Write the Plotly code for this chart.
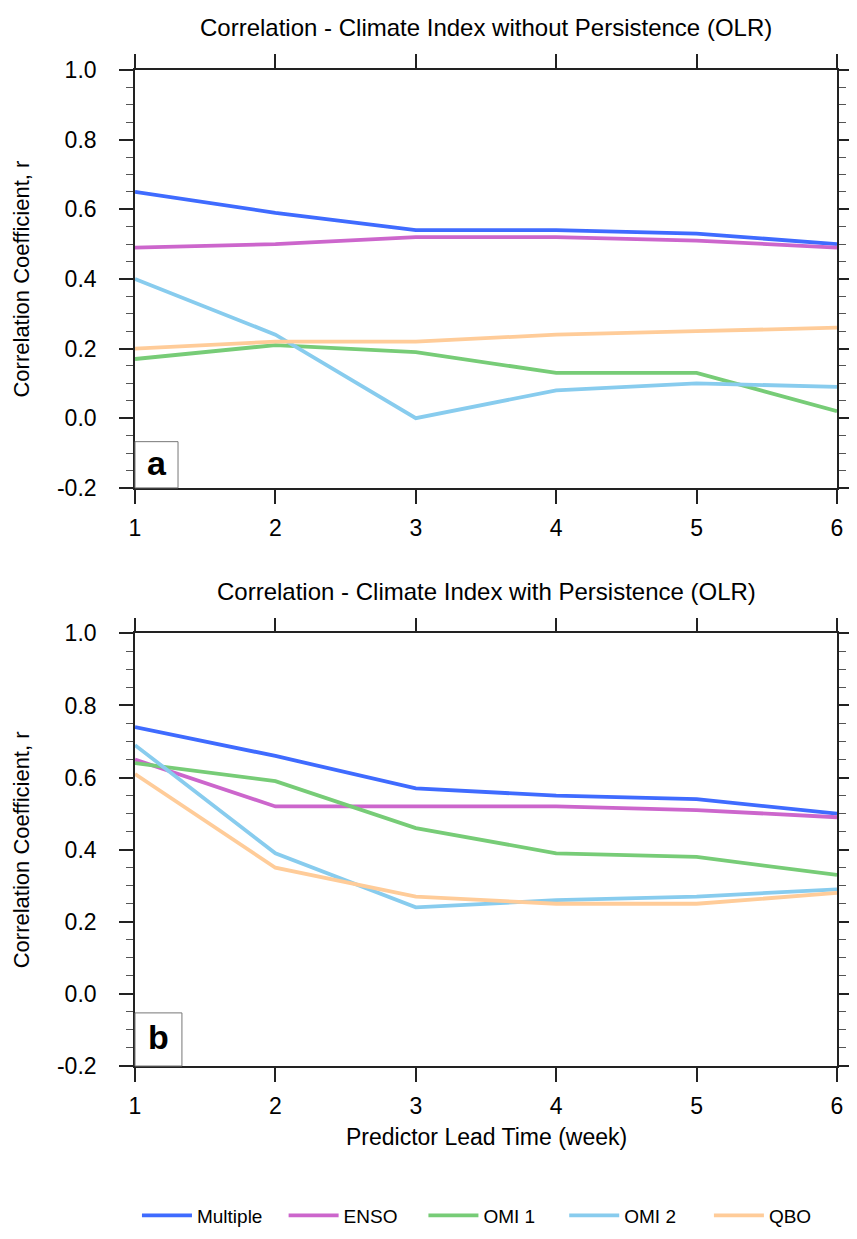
import plotly.graph_objects as go

# ---------------- data ----------------
lead_weeks = [1, 2, 3, 4, 5, 6]
series_names = ["Multiple", "ENSO", "OMI 1", "OMI 2", "QBO"]
series_colors = ["#3f6bff", "#cc66cc", "#77cc77", "#88ccee", "#ffcc99"]

# Panel a: without persistence
a_multiple = [0.65, 0.59, 0.54, 0.54, 0.53, 0.50]
a_enso     = [0.49, 0.50, 0.52, 0.52, 0.51, 0.49]
a_omi1     = [0.17, 0.21, 0.19, 0.13, 0.13, 0.02]
a_omi2     = [0.40, 0.24, 0.00, 0.08, 0.10, 0.09]
a_qbo      = [0.20, 0.22, 0.22, 0.24, 0.25, 0.26]

# Panel b: with persistence
b_multiple = [0.74, 0.66, 0.57, 0.55, 0.54, 0.50]
b_enso     = [0.65, 0.52, 0.52, 0.52, 0.51, 0.49]
b_omi1     = [0.64, 0.59, 0.46, 0.39, 0.38, 0.33]
b_omi2     = [0.69, 0.39, 0.24, 0.26, 0.27, 0.29]
b_qbo      = [0.61, 0.35, 0.27, 0.25, 0.25, 0.28]

y_tick_vals = [-0.2, 0.0, 0.2, 0.4, 0.6, 0.8, 1.0]
y_tick_text = ["-0.2", "0.0", "0.2", "0.4", "0.6", "0.8", "1.0"]

title_a = "Correlation - Climate Index without Persistence (OLR)"
title_b = "Correlation - Climate Index with Persistence (OLR)"
y_title = "Correlation Coefficient, r"
x_title = "Predictor Lead Time (week)"
panel_labels = ["a", "b"]

# ---------------- layout geometry ----------------
W, H = 857, 1239
L, R = 127, 845
T, B = 62, 1075
PH = B - T


def px(xp):
    return (xp - L) / (R - L)


def py(yp):
    return (B - yp) / PH


FONT = "Liberation Sans, Arial, Helvetica, sans-serif"

fig = go.Figure()

panel_a = [a_multiple, a_enso, a_omi1, a_omi2, a_qbo]
panel_b = [b_multiple, b_enso, b_omi1, b_omi2, b_qbo]
legend_ids = ["legend", "legend2", "legend3", "legend4", "legend5"]
legend_line_starts = [137, 287, 430, 574, 722]

for name, color, vals in zip(series_names, series_colors, panel_a):
    fig.add_trace(go.Scatter(x=lead_weeks, y=vals, mode="lines", name=name,
                             line=dict(color=color, width=3.8),
                             xaxis="x", yaxis="y", showlegend=False))
for name, color, vals, lg in zip(series_names, series_colors, panel_b, legend_ids):
    fig.add_trace(go.Scatter(x=lead_weeks, y=vals, mode="lines", name=name,
                             line=dict(color=color, width=3.8),
                             xaxis="x2", yaxis="y2", showlegend=True, legend=lg))

axis_common = dict(
    showline=True, linecolor="#222222", linewidth=1.6, mirror="allticks",
    ticks="outside", ticklen=14, tickwidth=1.5, tickcolor="#222222",
    showgrid=False, zeroline=False,
    tickfont=dict(family=FONT, size=23, color="black"),
)

xaxis_common = dict(axis_common, range=[1, 6], tickvals=lead_weeks,
                    ticklabelstandoff=5)
yaxis_common = dict(axis_common, range=[-0.2, 1.0], tickvals=y_tick_vals,
                    ticktext=y_tick_text, ticklabelstandoff=18,
                    minor=dict(dtick=0.05, ticklen=7, tickwidth=1,
                               tickcolor="#555555", ticks="outside"))

dom_a = [py(487), 1.0]
dom_b = [0.0, py(635)]

layout_kw = dict(
    width=W, height=H,
    margin=dict(l=L, r=W - R, t=T, b=H - B),
    paper_bgcolor="white", plot_bgcolor="white",
    font=dict(family=FONT, color="black"),
    xaxis=dict(xaxis_common, domain=[0, 1], anchor="y"),
    yaxis=dict(yaxis_common, domain=dom_a, anchor="x"),
    xaxis2=dict(xaxis_common, domain=[0, 1], anchor="y2"),
    yaxis2=dict(yaxis_common, domain=dom_b, anchor="x2"),
    showlegend=True,
)
for lg, xs in zip(legend_ids, legend_line_starts):
    layout_kw[lg] = dict(orientation="h", x=px(xs - 8), xanchor="left",
                         y=py(1227), yanchor="middle",
                         font=dict(family=FONT, size=19, color="black"),
                         itemwidth=50, bgcolor="rgba(0,0,0,0)")
fig.update_layout(**layout_kw)

annotations = [
    dict(text=title_a, x=0.5, y=py(19), xref="paper", yref="paper",
         showarrow=False, font=dict(size=24), xanchor="center", yanchor="middle"),
    dict(text=title_b, x=0.5, y=py(592), xref="paper", yref="paper",
         showarrow=False, font=dict(size=24), xanchor="center", yanchor="middle"),
    dict(text=y_title, x=px(11), y=(dom_a[0] + dom_a[1]) / 2, xref="paper", yref="paper",
         showarrow=False, textangle=-90, font=dict(size=22),
         xanchor="center", yanchor="middle"),
    dict(text=y_title, x=px(11), y=(dom_b[0] + dom_b[1]) / 2, xref="paper", yref="paper",
         showarrow=False, textangle=-90, font=dict(size=22),
         xanchor="center", yanchor="middle"),
    dict(text=x_title, x=0.5, y=py(1147), xref="paper", yref="paper",
         showarrow=False, font=dict(size=23), xanchor="center", yanchor="middle"),
]

# panel label boxes
box_sizes = [(44, 47), (48, 54)]
for lab, xa, ya, (bw_, bh_) in zip(panel_labels, ["x", "x2"], ["y", "y2"], box_sizes):
    dom = dom_a if ya == "y" else dom_b
    frac_w = bw_ / (R - L)
    frac_h = bh_ / ((dom[1] - dom[0]) * PH)
    fig.add_shape(type="rect", xref=f"{xa} domain", yref=f"{ya} domain",
                  x0=0, x1=frac_w, y0=0, y1=frac_h,
                  line=dict(color="#777777", width=1), fillcolor="white", layer="above")
    annotations.append(dict(text=f"<b>{lab}</b>", xref=f"{xa} domain", yref=f"{ya} domain",
                            x=frac_w / 2, y=frac_h / 2 + 0.005, showarrow=False,
                            font=dict(family="Liberation Sans, Arial", size=34, color="black"),
                            xanchor="center", yanchor="middle"))

fig.update_layout(annotations=annotations)

fig.write_html("out.html")
